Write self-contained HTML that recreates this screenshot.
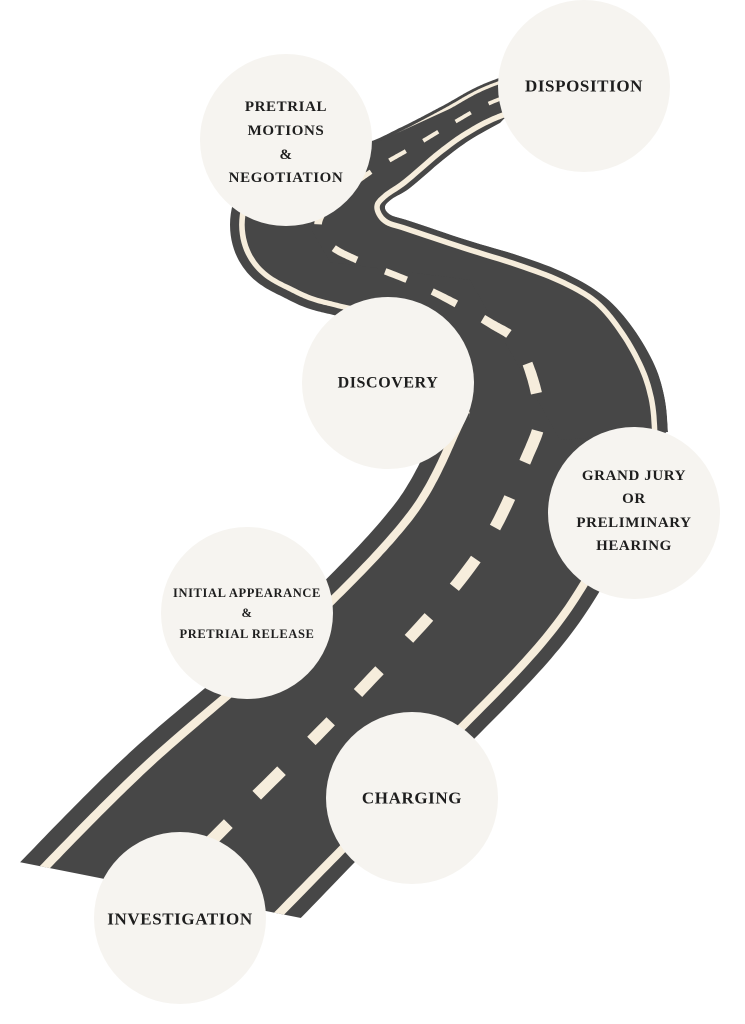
<!DOCTYPE html>
<html><head><meta charset="utf-8">
<style>
html,body{margin:0;padding:0;background:#fff;}
svg{display:block;}
text{font-family:"Liberation Serif",serif;font-weight:bold;fill:#1e1e1e;text-anchor:middle;dominant-baseline:central;letter-spacing:0.6px;}
</style></head><body>
<svg id="s" width="745" height="1024" viewBox="0 0 745 1024" xmlns="http://www.w3.org/2000/svg">
<defs><clipPath id="cp"><polygon points="-100,838 19,862 301,918 745,1007 745,0 -100,0"/></clipPath></defs>
<g id="road" clip-path="url(#cp)"></g>
<g fill="#f6f4f0">
<circle cx="584" cy="86" r="86"/>
<circle cx="286" cy="140" r="86"/>
<circle cx="388" cy="383" r="86"/>
<circle cx="634" cy="513" r="86"/>
<circle cx="247" cy="613" r="86"/>
<circle cx="412" cy="798" r="86"/>
<circle cx="180" cy="918" r="86"/>
</g>
<text x="584" y="86" font-size="17">DISPOSITION</text>
<text x="286" y="107" font-size="15">PRETRIAL</text>
<text x="286" y="131" font-size="15">MOTIONS</text>
<text x="286" y="155" font-size="15">&amp;</text>
<text x="286" y="178" font-size="15">NEGOTIATION</text>
<text x="388" y="383" font-size="16">DISCOVERY</text>
<text x="634" y="476" font-size="15">GRAND JURY</text>
<text x="634" y="499" font-size="15">OR</text>
<text x="634" y="523" font-size="15">PRELIMINARY</text>
<text x="634" y="546" font-size="15">HEARING</text>
<text x="247" y="593" font-size="12.5" letter-spacing="0.2">INITIAL APPEARANCE</text>
<text x="247" y="613" font-size="12.5">&amp;</text>
<text x="247" y="634" font-size="12.5" letter-spacing="0.2">PRETRIAL RELEASE</text>
<text x="412" y="798" font-size="17">CHARGING</text>
<text x="180" y="919" font-size="17">INVESTIGATION</text>
</svg>
<script>
(function(){
var C=[[100,955,122,118],[215,837,120,118],[358,693,104,115],[473,563,98,121],[527,457,95,125],[539,410,93,124],[520,347,90,86],[490,323,80,75],[423,287,50,55],[357,260,60,52],[330,245,70,48],[318,225,88,42],[330,203,70,40],[352,185,45,40],[380,166,27,30],[413,147,23,25],[453,123,20,22],[490,103,20,20],[540,85,20,20]];
function cr(P,n){var o=[];for(var i=0;i<P.length-1;i++){var p0=P[Math.max(i-1,0)],p1=P[i],p2=P[i+1],p3=P[Math.min(i+2,P.length-1)];
for(var k=0;k<n;k++){var t=k/n,t2=t*t,t3=t2*t;o.push(p1.map(function(_,j){return 0.5*((2*p1[j])+(-p0[j]+p2[j])*t+(2*p0[j]-5*p1[j]+4*p2[j]-p3[j])*t2+(-p0[j]+3*p1[j]-3*p2[j]+p3[j])*t3);}));}}
o.push(P[P.length-1]);return o;}
function ps(P){return P.map(function(p){return p[0].toFixed(1)+","+p[1].toFixed(1);}).join(" ");}
var S=cr(C,30),N=S.length-1,Ls=[],Rs=[];
for(var i=0;i<=N;i++){var a=S[Math.max(i-1,0)],b=S[Math.min(i+1,N)];var dx=b[0]-a[0],dy=b[1]-a[1],m=Math.hypot(dx,dy)||1;dx/=m;dy/=m;
var nx=-dy,ny=dx;Ls.push([S[i][0]-nx*S[i][2],S[i][1]-ny*S[i][2]]);Rs.push([S[i][0]+nx*S[i][3],S[i][1]+ny*S[i][3]]);}
function pt(i,d){var l=Ls[i],r=Rs[i],W=Math.hypot(r[0]-l[0],r[1]-l[1])||1;var dd=d(W);return [l[0]+(r[0]-l[0])*dd/W,l[1]+(r[1]-l[1])*dd/W];}
function band(a,b,i0,i1){var s=[];for(var i=i0;i<=i1;i++)s.push(pt(i,a));for(var i=i1;i>=i0;i--)s.push(pt(i,b));
return "M"+s.map(function(p){return p[0].toFixed(1)+","+p[1].toFixed(1);}).join("L")+"Z";}
var g=document.getElementById("road"),h="";
h+='<path fill="#474747" d="'+band(function(W){return 0;},function(W){return W;},0,N)+'"/>';
var cw=function(W){return 2+0.028*W;};
h+='<path fill="#f6eddc" d="'+band(function(W){return 0.07*W;},function(W){return 0.07*W+cw(W);},0,N)+'"/>';
var rA=function(W){return 0.94*W-cw(W);},rB=function(W){return 0.94*W;};
h+='<path fill="#f6eddc" d="'+band(rA,rB,0,146)+band(rA,rB,425,N)+'"/>';
var inner=ps(cr([[500,123],[470,140],[443,160],[410,188],[392,199],[385,207],[391,215],[410,221],[467,240],[520,256],[567,274],[605,297],[633,328],[655,366],[665,400],[668,432]],8));
var cream=ps(cr([[540,104],[498,117],[467,133],[439,153],[405,182],[385,196],[377,207],[385,221],[407,229],[464,248],[518,265],[560,281],[596,302],[622,333],[642,369],[652,402],[655,436]],8));
h+='<polygon fill="#474747" points="'+inner+' 560,440 470,280 330,262 300,210 360,150 480,95 540,80"/>';
h+='<polygon fill="#ffffff" points="545,108 '+inner+' 745,432 745,100"/>';
h+='<polyline fill="none" stroke="#f6eddc" stroke-width="5.5" stroke-linejoin="round" points="'+cream+'"/>';
var ph=-2.0,start=-1,dash="";
for(var i=0;i<=N;i++){var W=S[i][2]+S[i][3];
if(i>0){ph+=Math.hypot(S[i][0]-S[i-1][0],S[i][1]-S[i-1][1])/Math.pow(W,0.4)/8.3;}
var f=((ph%1)+1)%1,on=f<0.5;
if(on&&start<0)start=i;
if((!on||i==N)&&start>=0){if(i-1>start){var s=[];for(var k=start;k<=i-1;k++){var hw=1+0.022*(S[k][2]+S[k][3]);var a=S[Math.max(k-1,0)],b=S[Math.min(k+1,N)];var dx=b[0]-a[0],dy=b[1]-a[1],m=Math.hypot(dx,dy)||1;s.push([S[k][0]+dy/m*hw,S[k][1]-dx/m*hw]);}
for(var k=i-1;k>=start;k--){var hw=1+0.022*(S[k][2]+S[k][3]);var a=S[Math.max(k-1,0)],b=S[Math.min(k+1,N)];var dx=b[0]-a[0],dy=b[1]-a[1],m=Math.hypot(dx,dy)||1;s.push([S[k][0]-dy/m*hw,S[k][1]+dx/m*hw]);}
dash+="M"+s.map(function(p){return p[0].toFixed(1)+","+p[1].toFixed(1);}).join("L")+"Z";}start=-1;}}
h+='<path fill="#f6eddc" d="'+dash+'"/>';
g.innerHTML=h;
})();
</script>
</body></html>
